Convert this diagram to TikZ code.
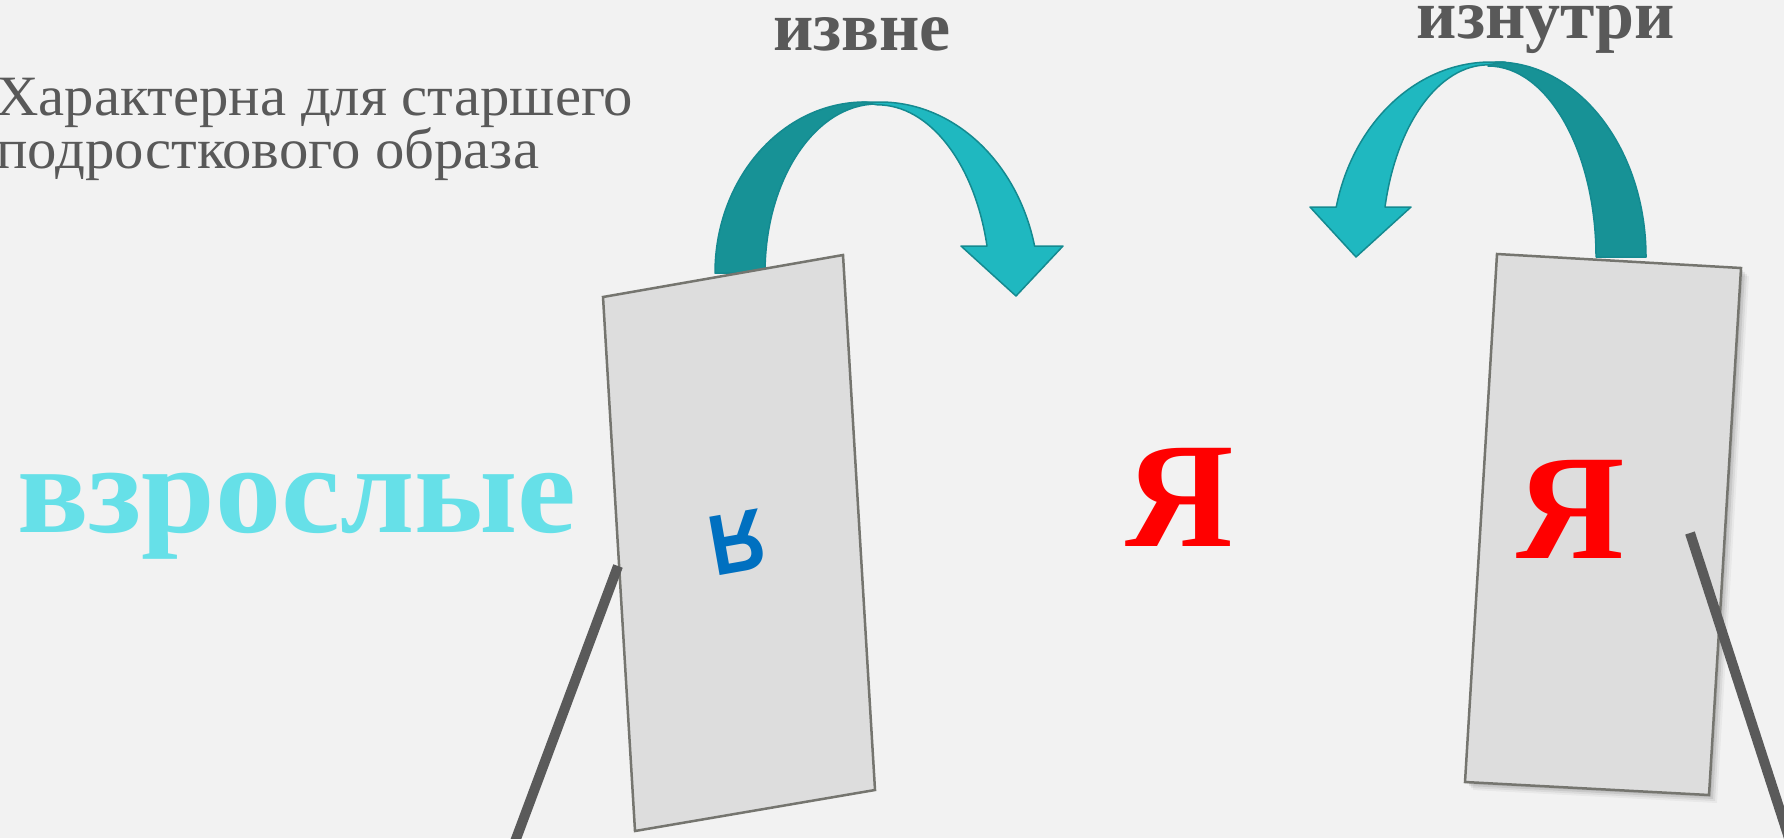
\documentclass[tikz,border=0pt]{standalone}
\usepackage{fontspec}
\setmainfont{Liberation Serif}
\newfontfamily\sansf{Liberation Sans}
\definecolor{bg}{HTML}{F2F2F2}
\definecolor{txtgray}{HTML}{595959}
\definecolor{adult}{HTML}{66E0E8}
\definecolor{armdark}{HTML}{179296}
\definecolor{armlight}{HTML}{1FB8C0}
\definecolor{armline}{HTML}{148A90}
\definecolor{panelfill}{HTML}{DDDDDD}
\definecolor{panelline}{HTML}{75756F}
\definecolor{standc}{HTML}{5A5A5A}
\definecolor{letterblue}{HTML}{0070C0}
\tikzset{
  armd/.style={fill=armdark, draw=armline, line width=1.5pt, line join=round},
  arml/.style={fill=armlight, draw=armline, line width=1.5pt, line join=round},
  panel/.style={fill=panelfill, draw=panelline, line width=2.5pt},
  standline/.style={draw=standc, line width=10pt},
  lbl/.style={text=txtgray, inner sep=0pt},
}
\begin{document}
\begin{tikzpicture}[x=1pt,y=-1pt]
\useasboundingbox (0,0) rectangle (1784,838);
\clip (0,0) rectangle (1784,838);
\fill[bg] (0,0) rectangle (1784,838);

% texts
\node[lbl, anchor=base west] (t1) at (-4,115) {\fontsize{57}{57}\selectfont\scalebox{1.03}[1]{Характерна для старшего}};
\node[lbl, anchor=base west] (t2) at (-4,168) {\fontsize{57}{57}\selectfont\scalebox{1.03}[1]{подросткового образа}};
\node[text=adult, inner sep=0pt, anchor=base west] (adults) at (17,532) {\fontsize{126}{126}\selectfont\bfseries\scalebox{1.05}[1]{взрослые}};
\node[lbl, anchor=base] (out) at (862,50) {\fontsize{70}{70}\selectfont\bfseries извне};
\node[lbl, anchor=base] (in) at (1546,38) {\fontsize{70}{70}\selectfont\bfseries изнутри};

% left arrow (izvne)
\path[armd] (715,273) arc[start angle=180, end angle=270, x radius=150, y radius=171]
  -- (877,104) arc[start angle=270, end angle=180, x radius=112, y radius=169] -- cycle;
\path[arml] (862,102) -- (880,102) arc[start angle=270, end angle=346.5, x radius=159, y radius=188]
  -- (1063,246) -- (1016,296) -- (961,246) -- (987,246)
  arc[start angle=346.3, end angle=270, x radius=113, y radius=185] -- cycle;

% right arrow (iznutri)
\path[armd] (1646,257) arc[start angle=0, end angle=-90, x radius=150, y radius=195]
  -- (1488,66) arc[start angle=-90, end angle=0, x radius=108, y radius=191] -- cycle;
\path[arml] (1505,62) -- (1491,62) arc[start angle=270, end angle=193.2, x radius=159, y radius=188]
  -- (1310,207) -- (1356,257) -- (1411,207) -- (1385,207)
  arc[start angle=193.4, end angle=270, x radius=106, y radius=185] -- cycle;

% left panel
\draw[panel] (603,297) -- (843,255) -- (875,790) -- (635,831) -- cycle;
\node[text=letterblue, inner sep=0pt, rotate=190] (mirrorI) at (737,542) {\fontsize{86}{86}\selectfont\sansf\bfseries\scalebox{0.9}[1]{Я}};
\coordinate (ls1) at (618,566);
\coordinate (ls2) at (510,855);
\draw[standline] (ls1) -- (ls2);

% red I in the middle
\node[text=red, inner sep=0pt] (midI) at (1180,497) {\fontsize{150}{150}\selectfont\bfseries Я};

% right panel with soft shadow
\foreach \s/\o in {8/0.04,6/0.06,4/0.08,2/0.08}{
  \fill[black, opacity=\o] (1497+\s,254+\s) -- (1741+\s,268+\s) -- (1709+\s,795+\s) -- (1465+\s,782+\s) -- cycle;
}
\draw[panel] (1497,254) -- (1741,268) -- (1709,795) -- (1465,782) -- cycle;
\node[text=red, inner sep=0pt] (panelI) at (1571,509) {\fontsize{150}{150}\selectfont\bfseries Я};
\coordinate (rs1) at (1690,533);
\coordinate (rs2) at (1800,872);
\draw[standline] (rs1) -- (rs2);
\end{tikzpicture}
\end{document}
